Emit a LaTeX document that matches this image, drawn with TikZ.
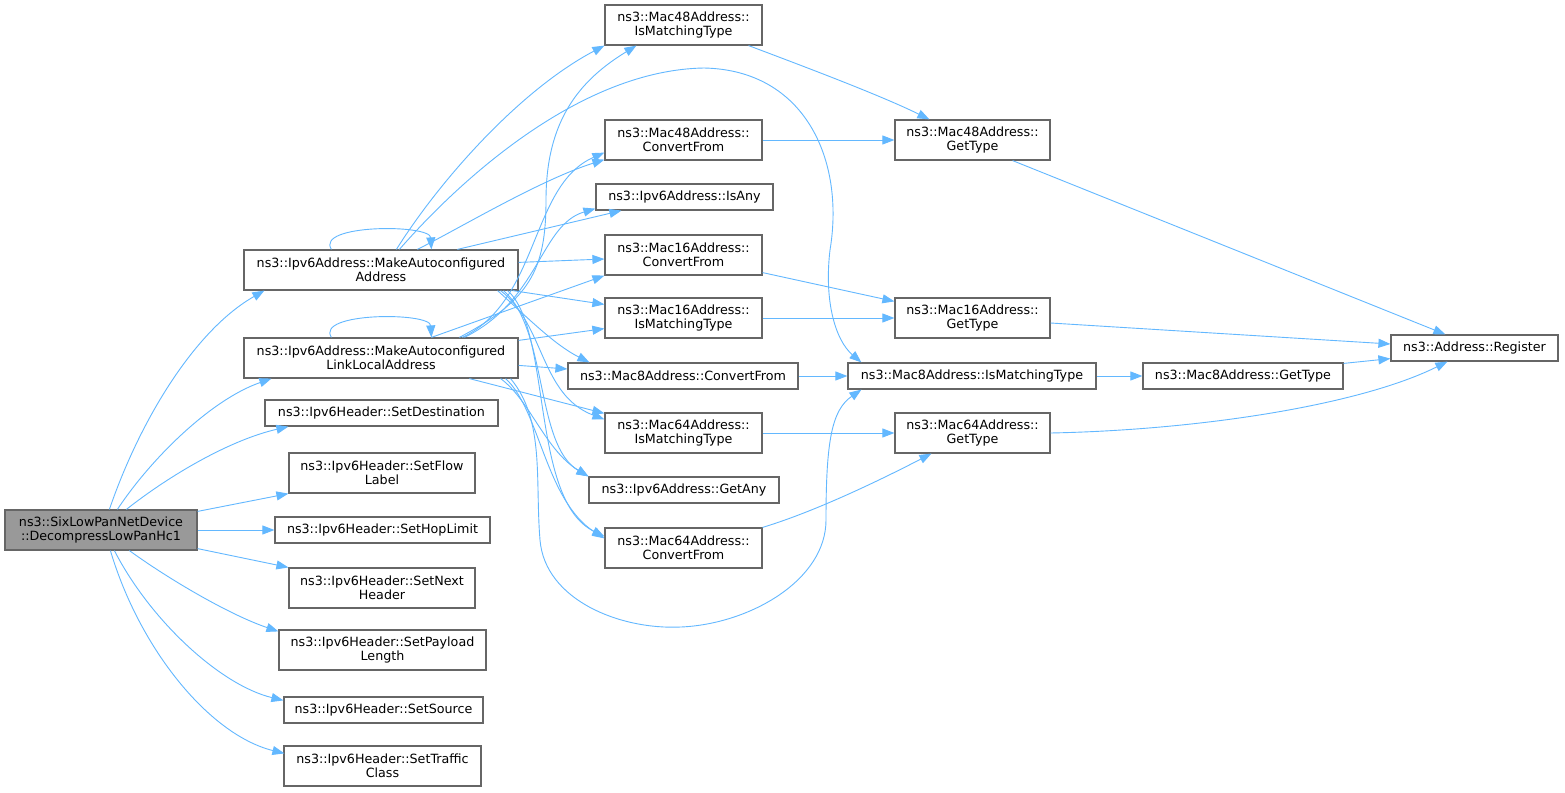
\documentclass[tikz,border=0pt]{standalone}
\usepackage{fontspec}
\setmainfont{DejaVu Sans}
\usetikzlibrary{arrows.meta,calc}
\definecolor{edgec}{HTML}{63B8FF}
\definecolor{bord}{HTML}{666666}
\definecolor{dlpfill}{HTML}{999999}
\newcommand\mybox[6]{\node[box,minimum width=#4,minimum height=#5] (#1) at (#2,#3) {#6};}
\begin{document}
\begin{tikzpicture}[x=1pt,y=-1pt,
  box/.style={draw=bord,fill=white,line width=1.2pt,inner sep=0pt,align=center,
    font=\fontsize{12.7}{14.5}\selectfont},
  edge/.style={draw=edgec,line width=0.9pt,-{Triangle[length=12pt,width=9pt]}}]
\fill[white] (0,0) rectangle (1565,792);
\useasboundingbox (0,0) rectangle (1565,792);
% left column
\node[box,fill=dlpfill,minimum width=192,minimum height=40] (dlp) at (101,530) {ns3::SixLowPanNetDevice\\::DecompressLowPanHc1};
\mybox{maa}{381}{270}{274}{40}{ns3::Ipv6Address::MakeAutoconfigured\\Address}
\mybox{mall}{381}{358}{274}{40}{ns3::Ipv6Address::MakeAutoconfigured\\LinkLocalAddress}
\mybox{sdest}{381.5}{413}{233}{26}{ns3::Ipv6Header::SetDestination}
\mybox{sflow}{382}{473}{186}{40}{ns3::Ipv6Header::SetFlow\\Label}
\mybox{shop}{382.5}{530}{215}{26}{ns3::Ipv6Header::SetHopLimit}
\mybox{snext}{382}{588}{186}{40}{ns3::Ipv6Header::SetNext\\Header}
\mybox{spay}{382.5}{650}{207}{40}{ns3::Ipv6Header::SetPayload\\Length}
\mybox{ssrc}{383.5}{710}{199}{26}{ns3::Ipv6Header::SetSource}
\mybox{stc}{382.5}{766}{197}{40}{ns3::Ipv6Header::SetTraffic\\Class}
% middle column
\mybox{m48imt}{683.5}{25}{157}{40}{ns3::Mac48Address::\\IsMatchingType}
\mybox{m48cf}{683.5}{140}{157}{40}{ns3::Mac48Address::\\ConvertFrom}
\mybox{isany}{684.5}{197}{177}{26}{ns3::Ipv6Address::IsAny}
\mybox{m16cf}{683.5}{255}{157}{40}{ns3::Mac16Address::\\ConvertFrom}
\mybox{m16imt}{683.5}{318}{157}{40}{ns3::Mac16Address::\\IsMatchingType}
\mybox{m8cf}{683}{376}{230}{26}{ns3::Mac8Address::ConvertFrom}
\mybox{m64imt}{683.5}{433}{157}{40}{ns3::Mac64Address::\\IsMatchingType}
\mybox{getany}{684}{490}{190}{26}{ns3::Ipv6Address::GetAny}
\mybox{m64cf}{683.5}{548}{157}{40}{ns3::Mac64Address::\\ConvertFrom}
% right columns
\mybox{m48gt}{972.5}{140}{155}{40}{ns3::Mac48Address::\\GetType}
\mybox{m16gt}{972.5}{318}{155}{40}{ns3::Mac16Address::\\GetType}
\mybox{m8imt}{972}{376}{248}{26}{ns3::Mac8Address::IsMatchingType}
\mybox{m64gt}{972.5}{433}{155}{40}{ns3::Mac64Address::\\GetType}
\mybox{m8gt}{1243}{376}{200}{26}{ns3::Mac8Address::GetType}
\mybox{reg}{1474.5}{348}{167}{26}{ns3::Address::Register}
% edges from DecompressLowPanHc1
\draw[edge] ($(dlp.north west)+(105,0)$) .. controls (140,420) and (195,330) .. ($(maa.south west)+(21,0)$);
\draw[edge] ($(dlp.north west)+(113,0)$) .. controls (150,460) and (210,400) .. ($(mall.south west)+(28,0)$);
\draw[edge] ($(dlp.north west)+(122,0)$) .. controls (170,475) and (230,440) .. ($(sdest.south west)+(24,0)$);
\draw[edge] ($(dlp.north east)+(0,2)$) -- (sflow.south west);
\draw[edge] (dlp.east) -- (shop.west);
\draw[edge] ($(dlp.south east)+(0,-2)$) -- (snext.north west);
\draw[edge] ($(dlp.south west)+(125,0)$) .. controls (170,580) and (230,615) .. ($(spay.north west)+(0,2)$);
\draw[edge] ($(dlp.south west)+(110,0)$) .. controls (150,620) and (220,685) .. ($(ssrc.north west)+(0,4)$);
\draw[edge] ($(dlp.south west)+(106,0)$) .. controls (140,650) and (210,735) .. ($(stc.north west)+(1,8)$);
% edges from MakeAutoconfiguredAddress
\draw[edge] ($(maa.north west)+(88,0)$) .. controls (315,224) and (430,224) .. ($(maa.north west)+(188,0)$);
\draw[edge] ($(maa.north west)+(153,0)$) .. controls (440,180) and (520,90) .. (m48imt.south west);
\draw[edge] ($(maa.north west)+(156,0)$) .. controls (460,180) and (580,70) .. (704,68)
  .. controls (805,70) and (845,160) .. (830,250) .. controls (824,300) and (835,340) .. ($(m8imt.north west)+(14,0)$);
\draw[edge] ($(maa.north west)+(174,0)$) .. controls (460,228) and (540,180) .. ($(m48cf.south west)+(0,-1)$);
\draw[edge] ($(maa.north west)+(214,0)$) -- ($(isany.south west)+(26,0)$);
\draw[edge] ($(maa.north east)+(0,13)$) -- ($(m16cf.west)+(0,4)$);
\draw[edge] ($(maa.south east)+(-6,0)$) -- ($(m16imt.north west)+(0,7)$);
\draw[edge] ($(maa.south east)+(-21,0)$) .. controls (530,320) and (555,345) .. ($(m8cf.north west)+(22,0)$);
\draw[edge] ($(maa.south east)+(-18,0)$) .. controls (545,325) and (540,395) .. ($(m64imt.north west)+(0,7)$);
\draw[edge] ($(maa.south east)+(-15,0)$) .. controls (548,330) and (535,445) .. (getany.north west);
\draw[edge] ($(maa.south east)+(-11,0)$) .. controls (552,330) and (530,500) .. ($(m64cf.north west)+(0,9)$);
% edges from MakeAutoconfiguredLinkLocalAddress
\draw[edge] ($(mall.north west)+(88,0)$) .. controls (315,312) and (430,312) .. ($(mall.north west)+(188,0)$);
\draw[edge] ($(mall.north west)+(216,0)$) .. controls (530,300) and (546,270) .. (546,200)
  .. controls (546,120) and (580,80) .. ($(m48imt.south west)+(32,0)$);
\draw[edge] ($(mall.north west)+(219,0)$) .. controls (540,300) and (530,185) .. ($(m48cf.south west)+(0,-8)$);
\draw[edge] ($(mall.north west)+(221,0)$) .. controls (540,300) and (540,225) .. ($(isany.south west)+(0,-2)$);
\draw[edge] ($(mall.north west)+(188,0)$) -- (m16cf.south west);
\draw[edge] ($(mall.north east)+(0,3)$) -- ($(m16imt.south west)+(0,-10)$);
\draw[edge] ($(mall.north east)+(0,28)$) -- ($(m8cf.west)+(0,-7)$);
\draw[edge] ($(mall.south west)+(226,0)$) -- ($(m64imt.north west)+(0,1)$);
\draw[edge] ($(mall.south east)+(-18,0)$) .. controls (530,400) and (545,450) .. (getany.north west);
\draw[edge] ($(mall.south east)+(-13,0)$) .. controls (540,410) and (545,500) .. ($(m64cf.north west)+(0,11)$);
\draw[edge] ($(mall.south east)+(-8,0)$) .. controls (545,420) and (535,480) .. (540,540)
  .. controls (545,600) and (620,630) .. (681,627) .. controls (750,624) and (826,580) .. (826,520)
  .. controls (826,440) and (832,410) .. ($(m8imt.south west)+(14,0)$);
% middle to right
\draw[edge] ($(m48imt.south east)+(-14,0)$) .. controls (800,65) and (880,95) .. ($(m48gt.north west)+(35,0)$);
\draw[edge] (m48cf.east) -- (m48gt.west);
\draw[edge] ($(m16cf.south east)+(0,-3)$) -- ($(m16gt.north west)+(0,4)$);
\draw[edge] (m16imt.east) -- (m16gt.west);
\draw[edge] (m8cf.east) -- (m8imt.west);
\draw[edge] (m64imt.east) -- (m64gt.west);
\draw[edge] (m64cf.north east) .. controls (820,510) and (890,475) .. ($(m64gt.south west)+(37,0)$);
\draw[edge] (m8imt.east) -- (m8gt.west);
\draw[edge] ($(m48gt.south east)+(-38,0)$) -- ($(reg.north west)+(55,0)$);
\draw[edge] ($(m16gt.east)+(0,5)$) -- ($(reg.west)+(0,-4)$);
\draw[edge] ($(m8gt.north east)+(0,1)$) -- ($(reg.south west)+(0,-3)$);
\draw[edge] (m64gt.east) .. controls (1200,430) and (1360,405) .. ($(reg.south west)+(57,0)$);
\end{tikzpicture}
\end{document}
